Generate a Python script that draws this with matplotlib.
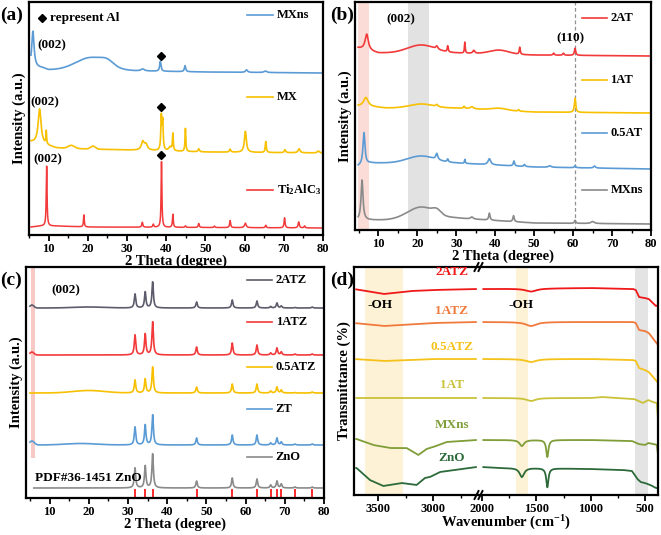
import numpy as np
import matplotlib
matplotlib.use('Agg')
import matplotlib.pyplot as plt
from matplotlib.ticker import MultipleLocator, FixedLocator
from matplotlib.lines import Line2D

plt.rcParams['font.family'] = ['Liberation Serif', 'DejaVu Sans']
plt.rcParams['font.weight'] = 'bold'
plt.rcParams['axes.labelweight'] = 'bold'
plt.rcParams['mathtext.fontset'] = 'custom'
plt.rcParams['mathtext.rm'] = 'Liberation Serif:bold'
plt.rcParams['mathtext.it'] = 'Liberation Serif:bold'
plt.rcParams['mathtext.bf'] = 'Liberation Serif:bold'

# ---------------- data ----------------
# peaks: (center, height, half-width); humps: (center, height, sigma)
# Panel (a)
a_ti_base_x = [5.5, 8, 12, 20, 80]
a_ti_base_y = [8, 9, 9, 8, 7]
a_ti_peaks = [(9.5, 60, 0.12), (19.0, 12, 0.12), (33.9, 5, 0.15), (36.7, 3, 0.15),
              (38.8, 66, 0.12), (41.7, 13, 0.13), (44.9, 1.5, 0.15), (48.3, 4, 0.15),
              (52.3, 1.5, 0.15), (56.3, 7, 0.15), (60.2, 4.5, 0.25), (65.4, 2.5, 0.15),
              (70.2, 10, 0.15), (73.8, 6, 0.18), (75.3, 2, 0.15)]
a_mx_base_x = [5.5, 6.5, 9, 12, 20, 30, 50, 80]
a_mx_base_y = [93, 92, 90, 87, 86, 85, 83, 82]
a_mx_peaks = [(7.7, 35, 0.45), (9.4, 13, 0.1), (34.0, 8, 0.4), (34.8, 6, 0.5),
              (38.75, 33, 0.15), (39.1, 28, 0.15), (41.0, 4, 0.4), (41.7, 17, 0.12),
              (44.9, 23, 0.12), (48.3, 3, 0.2), (56.3, 3, 0.2), (60.2, 21, 0.3),
              (65.4, 11, 0.15), (70.3, 3, 0.2), (73.9, 4, 0.3), (78.8, 2, 0.3)]
a_mx_humps = [(15.8, 3, 0.8), (21.3, 3, 0.6)]
a_mxns_base_x = [5.5, 8.5, 10, 35, 50, 80]
a_mxns_base_y = [168, 167, 165, 164, 163, 162]
a_mxns_peaks = [(6.0, 36, 0.35), (34.0, 2, 0.5), (38.5, 10, 0.2), (44.8, 6, 0.2),
                (60.5, 2.5, 0.3), (65.3, 1.5, 0.4)]
a_mxns_humps = [(21.0, 13, 4.0), (25.0, 4, 1.5)]

# Panel (b)
b_mx_base_x = [4.8, 8, 12, 30, 50, 80]
b_mx_base_y = [10, 10, 10, 12, 7, 6]
b_mx_peaks = [(5.8, 40, 0.3), (34.0, 2, 0.4), (38.5, 7, 0.2), (44.7, 6, 0.2),
              (60.5, 3, 0.2), (65.0, 2, 0.5)]
b_mx_humps = [(21.0, 12, 3.5), (25.0, 4, 1.0)]
b_05_base_x = [4.8, 8, 12, 30, 50, 80]
b_05_base_y = [64, 67, 67, 67, 63, 61]
b_05_peaks = [(6.3, 32, 0.3), (25.0, 6, 0.3), (27.8, 3, 0.2), (32.2, 4, 0.12),
              (38.5, 6, 0.4), (44.8, 5, 0.2), (47.5, 2, 0.2), (54.0, 1.5, 0.4),
              (60.5, 2, 0.2), (65.5, 2, 0.3)]
b_05_humps = [(21.0, 7, 3.5)]
b_1_base_x = [4.8, 9, 12, 30, 50, 80]
b_1_base_y = [124, 123, 122, 122, 118, 117]
b_1_peaks = [(6.8, 9, 0.7), (25.0, 2, 0.3), (32.0, 2, 0.2), (34.0, 2, 0.5),
             (46.0, 1.5, 0.2), (60.5, 14, 0.2)]
b_1_humps = [(21.0, 4, 3.0), (41.0, 2, 2.0)]
b_2_base_x = [4.8, 10, 30, 50, 80]
b_2_base_y = [182, 177, 177, 175, 174]
b_2_peaks = [(7.0, 16, 0.5), (25.0, 3, 0.3), (27.8, 6, 0.15), (32.2, 11, 0.12),
             (34.5, 3, 0.3), (46.3, 7, 0.15), (55.0, 2, 0.2), (57.5, 2, 0.2),
             (60.5, 7, 0.2)]
b_2_humps = [(21.0, 8, 3.5), (41.0, 4, 2.5)]

# Panel (c)
c_pos = [31.8, 34.4, 36.3, 47.5, 56.6, 62.9, 66.4, 68.0, 69.1, 72.6, 77.0]
c_zno_h = [20, 22, 34, 7, 10, 9, 3, 7, 4, 1, 1]
c_zt_h = [18, 20, 30, 7, 10, 10, 2, 7, 3, 1, 1]
c_05atz_h = [13, 14, 26, 6, 9, 9, 2, 6, 3, 0.5, 1]
c_1atz_h = [20, 21, 33, 8, 12, 10, 2, 7, 3, 1, 1]
c_2atz_h = [14, 16, 26, 6, 8, 7, 1.5, 5, 2, 0.5, 1]
c_base = {'ZnO': 10, 'ZT': 53, '0.5ATZ': 105, '1ATZ': 143, '2ATZ': 190}
c_humps = {'ZnO': [], 'ZT': [(5.5, 4, 0.6), (18, 1.5, 4)],
           '0.5ATZ': [(20, 2.5, 4)], '1ATZ': [(5.5, 3, 0.5)],
           '2ATZ': [(5.5, 3, 0.5), (20, 1, 4)]}
pdf_pos = [31.8, 34.4, 36.3, 47.5, 56.6, 62.9, 66.4, 68.0, 69.1, 72.6, 77.0]

# Panel (d) FTIR: baseline anchors (wavenumber, value) and dips (center, depth, half-width)
d_2atz_wn = [3720, 3450, 3200, 3000, 2600, 2000, 1000, 610, 585, 555, 500, 465, 400, 380]
d_2atz_v = [206, 201, 204, 205, 206, 206, 207, 206, 205, 198, 197, 196, 189, 190]
d_2atz_dips = [(1550, 3, 60)]
d_1atz_wn = [3720, 3450, 3000, 2600, 2000, 1000, 610, 585, 555, 500, 465, 400, 380]
d_1atz_v = [172, 169, 172, 173, 173, 173, 173, 172, 165, 164, 162, 153, 150]
d_1atz_dips = [(1550, 4, 60)]
d_05atz_wn = [3720, 3450, 3000, 2600, 2000, 1000, 610, 585, 555, 500, 465, 400, 380]
d_05atz_v = [136, 134, 136, 136, 136, 136, 135, 134, 127, 125, 123, 115, 112]
d_05atz_dips = [(1550, 3, 60)]
d_1at_wn = [3720, 3000, 2600, 2000, 1000, 900, 600, 520, 470, 430, 390, 380]
d_1at_v = [97, 97, 97, 97, 97, 98, 96, 92, 95, 93, 92, 75]
d_1at_dips = [(1550, 3, 50)]
d_mxns_wn = [3697, 3545, 3394, 3242, 3136, 3061, 3000, 2879, 2606, 2000, 1000, 620, 560, 500, 470, 420, 390, 380]
d_mxns_v = [56, 50, 47, 47, 40, 46, 48, 53, 55, 55, 55, 54, 51, 50, 52, 51, 50, 40]
d_mxns_dips = [(1635, 6, 25), (1400, 17, 12)]
d_zno_wn = [3697, 3576, 3455, 3288, 3152, 3076, 3030, 2939, 2606, 2000, 1800, 1550, 1000, 700, 620, 570, 540, 500, 450, 400, 380]
d_zno_v = [27, 15, 9, 12, 10, 17, 18, 23, 28, 28, 27, 27, 26, 25, 24, 16, 13, 12, 10, 7, 7]
d_zno_dips = [(1635, 9, 25), (1400, 19, 12)]

# ---------------- helpers ----------------
def profile(x, bx, by, peaks=(), humps=()):
    order = np.argsort(bx)
    y = np.interp(x, np.asarray(bx, float)[order], np.asarray(by, float)[order])
    for c, h, w in peaks:
        y = y + h * w ** 2 / ((x - c) ** 2 + w ** 2)
    for c, h, s in humps:
        y = y + h * np.exp(-0.5 * ((x - c) / s) ** 2)
    return y

W, H = 661, 535
fig = plt.figure(figsize=(W / 100, H / 100), dpi=100)

def px_axes(l, t, r, b):
    return fig.add_axes([l / W, 1 - b / H, (r - l) / W, (b - t) / H])

def style(ax, xlabel=True):
    for s in ax.spines.values():
        s.set_linewidth(1.6)
    ax.tick_params(axis='x', which='major', direction='out', length=4, width=1.3,
                   labelsize=9, pad=1.5)
    ax.tick_params(axis='x', which='minor', direction='out', length=2.2, width=1.0)
    ax.tick_params(axis='y', left=False, labelleft=False)

def xrd_style(ax, xlim):
    style(ax)
    ax.set_xlim(*xlim)
    ax.xaxis.set_major_locator(MultipleLocator(10))
    ax.xaxis.set_minor_locator(MultipleLocator(5))
    ax.set_xlabel('2 Theta (degree)', fontsize=10.5, labelpad=0)
    ax.set_ylabel('Intensity (a.u.)', fontsize=10.5, labelpad=2)

def legend_item(ax, x0, x1, y, color, label):
    ax.plot([x0, x1], [y, y], color=color, lw=1.2, transform=ax.transAxes)
    ax.text(x1 + 0.012, y, label, transform=ax.transAxes, fontsize=9,
            ha='left', va='center')

blue = '#5b9bd5'
yellow = '#f7c000'
red = '#f23a3a'
grey = '#8a8a8a'

# ---------------- panel (a) ----------------
axa = px_axes(29, 2, 323, 235)
xa = np.linspace(5.5, 80, 4000)
axa.plot(xa, profile(xa, a_ti_base_x, a_ti_base_y, a_ti_peaks), color=red, lw=1.1)
axa.plot(xa, profile(xa, a_mx_base_x, a_mx_base_y, a_mx_peaks, a_mx_humps), color=yellow, lw=1.2)
axa.plot(xa, profile(xa, a_mxns_base_x, a_mxns_base_y, a_mxns_peaks, a_mxns_humps), color=blue, lw=1.2)
axa.set_ylim(0, 233)
xrd_style(axa, (5, 80))
for yy in [80, 128, 179]:
    axa.plot([38.8], [yy], marker='D', ms=3.6, color='black', ls='none')
axa.plot([0.045], [0.93], marker='D', ms=3.6, color='black', transform=axa.transAxes)
axa.text(0.07, 0.93, 'represent Al', transform=axa.transAxes, fontsize=9.5, va='center')
axa.text(0.03, 0.815, '(002)', transform=axa.transAxes, fontsize=9.5, va='center')
axa.text(0.005, 0.57, '(002)', transform=axa.transAxes, fontsize=9.5, va='center')
axa.text(0.015, 0.325, '(002)', transform=axa.transAxes, fontsize=9.5, va='center')
legend_item(axa, 0.741, 0.83, 0.944, blue, 'MXns')
legend_item(axa, 0.741, 0.83, 0.592, yellow, 'MX')
legend_item(axa, 0.741, 0.83, 0.193, red, r'Ti$_2$AlC$_3$')

# ---------------- panel (b) ----------------
axb = px_axes(355, 2, 651, 230)
xb = np.linspace(4.8, 80, 4000)
axb.axvspan(4.8, 7.6, color='#fbdcd6', lw=0, zorder=0)
axb.axvspan(17.6, 23.0, color='#e2e2e2', lw=0, zorder=0)
axb.axvline(60.6, color='#909090', lw=0.9, ls=(0, (3, 2)), zorder=1)
axb.plot(xb, profile(xb, b_mx_base_x, b_mx_base_y, b_mx_peaks, b_mx_humps), color=grey, lw=1.2)
axb.plot(xb, profile(xb, b_05_base_x, b_05_base_y, b_05_peaks, b_05_humps), color=blue, lw=1.2)
axb.plot(xb, profile(xb, b_1_base_x, b_1_base_y, b_1_peaks, b_1_humps), color=yellow, lw=1.2)
axb.plot(xb, profile(xb, b_2_base_x, b_2_base_y, b_2_peaks, b_2_humps), color=red, lw=1.2)
axb.set_ylim(0, 228)
xrd_style(axb, (4, 80))
axb.text(0.105, 0.925, '(002)', transform=axb.transAxes, fontsize=9.5, va='center')
axb.text(0.68, 0.84, '(110)', transform=axb.transAxes, fontsize=9.5, va='center')
legend_item(axb, 0.767, 0.851, 0.93, red, '2AT')
legend_item(axb, 0.767, 0.851, 0.658, yellow, '1AT')
legend_item(axb, 0.767, 0.851, 0.425, blue, '0.5AT')
legend_item(axb, 0.767, 0.851, 0.175, grey, 'MXns')

# ---------------- panel (c) ----------------
axc = px_axes(26, 267, 324, 498)
xc = np.linspace(5.0, 80, 4000)
axc.axvspan(5.3, 6.3, ymin=40 / 231, ymax=1, color='#f8c8c4', lw=0, zorder=0)
c_series = [('ZnO', c_zno_h, grey), ('ZT', c_zt_h, blue), ('0.5ATZ', c_05atz_h, yellow),
            ('1ATZ', c_1atz_h, red), ('2ATZ', c_2atz_h, '#5c5c6c')]
for name, hts, col in c_series:
    peaks = [(p, h, 0.22) for p, h in zip(c_pos, hts)]
    xs = xc if name != 'ZnO' else np.linspace(6.0, 80, 4000)
    axc.plot(xs, profile(xs, [5, 80], [c_base[name], c_base[name]], peaks, c_humps[name]),
             color=col, lw=1.2)
axc.vlines(pdf_pos, 0, 9, color='#ff1a1a', lw=1.3)
axc.set_ylim(0, 231)
xrd_style(axc, (4, 80))
axc.text(0.085, 0.9, '(002)', transform=axc.transAxes, fontsize=9.5, va='center')
axc.text(0.03, 0.087, 'PDF#36-1451 ZnO', transform=axc.transAxes, fontsize=9.5, va='center')
legend_item(axc, 0.742, 0.826, 0.944, '#5c5c6c', '2ATZ')
legend_item(axc, 0.742, 0.826, 0.762, red, '1ATZ')
legend_item(axc, 0.742, 0.826, 0.567, yellow, '0.5ATZ')
legend_item(axc, 0.742, 0.826, 0.385, blue, 'ZT')
legend_item(axc, 0.742, 0.826, 0.177, grey, 'ZnO')

# ---------------- panel (d) ----------------
axL = px_axes(354, 267, 479, 495)
axR = px_axes(479, 267, 658, 495)
wl = np.linspace(3700, 2612, 1500)
wr = np.linspace(1990, 380, 2500)
d_series = [(d_2atz_wn, d_2atz_v, d_2atz_dips, '#f01818', '2ATZ'),
            (d_1atz_wn, d_1atz_v, d_1atz_dips, '#f07a3c', '1ATZ'),
            (d_05atz_wn, d_05atz_v, d_05atz_dips, '#f5c21a', '0.5ATZ'),
            (d_1at_wn, d_1at_v, d_1at_dips, '#c9c23a', '1AT'),
            (d_mxns_wn, d_mxns_v, d_mxns_dips, '#7f9d38', 'MXns'),
            (d_zno_wn, d_zno_v, d_zno_dips, '#2d6a3a', 'ZnO')]
label_y = [223, 184, 148, 110, 70, 37]
for (wn, v, dips, col, name), ly in zip(d_series, label_y):
    neg = [(c, -dd, w) for c, dd, w in dips]
    axL.plot(wl, profile(wl, wn, v, neg), color=col, lw=1.3)
    axR.plot(wr, profile(wr, wn, v, neg), color=col, lw=1.3)
    axL.text(2830, ly, name, color=col, fontsize=9.5, ha='center', va='center')
axL.axvspan(3620, 3275, color='#fdf2d6', lw=0, zorder=0)
axR.axvspan(1690, 1575, color='#fdf2d6', lw=0, zorder=0)
axR.axvspan(590, 470, color='#e4e4e4', lw=0, zorder=0)
for ax, xl in [(axL, (3720, 2584)), (axR, (2030, 380))]:
    style(ax)
    ax.set_xlim(*xl)
    ax.set_ylim(0, 228)
axL.xaxis.set_major_locator(FixedLocator([3500, 3000]))
axL.xaxis.set_minor_locator(FixedLocator([3250, 2750]))
axR.xaxis.set_major_locator(FixedLocator([2000, 1500, 1000, 500]))
axR.xaxis.set_minor_locator(FixedLocator([1750, 1250, 750]))
axL.spines['right'].set_visible(False)
axR.spines['left'].set_visible(False)
axL.set_ylabel('Transmittance (%)', fontsize=10.5, labelpad=2)
fig.text((354 + 658) / 2 / W, 1 - 523 / H, 'Wavenumber (cm$^{-1}$)', fontsize=10.5,
         ha='center', va='center')
axL.text(3480, 190, '-OH', fontsize=9.5, ha='center', va='center')
axR.text(1640, 190, '-OH', fontsize=9.5, ha='center', va='center')
for yb in [267, 495]:
    for dx in [-2.5, 1.5]:
        x0 = 479 + dx
        fig.add_artist(Line2D([(x0 - 2) / W, (x0 + 2) / W], [1 - (yb + 4) / H, 1 - (yb - 4) / H],
                              color='black', lw=1.4))

# panel letters
fig.text(0 / W, 1 - 15 / H, '(a)', fontsize=14, ha='left', va='center')
fig.text(330 / W, 1 - 15 / H, '(b)', fontsize=14, ha='left', va='center')
fig.text(0 / W, 1 - 280 / H, '(c)', fontsize=14, ha='left', va='center')
fig.text(330 / W, 1 - 280 / H, '(d)', fontsize=14, ha='left', va='center')

fig.savefig('out.png', dpi=100)
